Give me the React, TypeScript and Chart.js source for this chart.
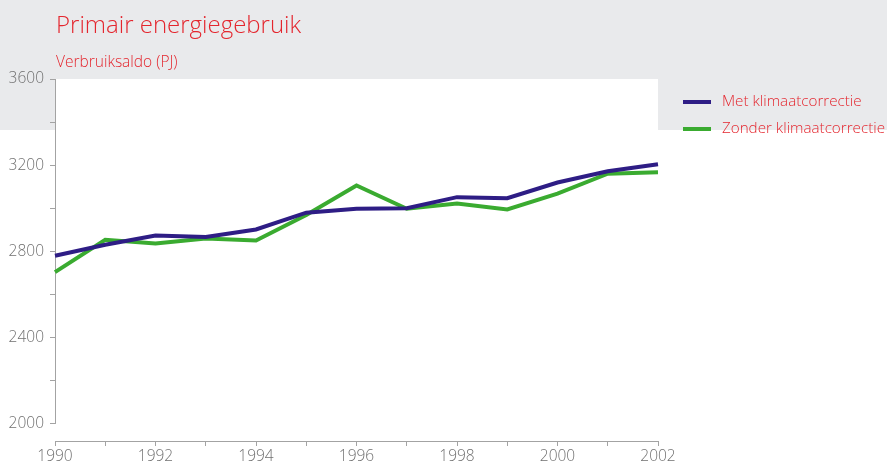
import React, { useEffect, useRef } from "react";
import { Chart, registerables } from "chart.js";

Chart.register(...registerables);

const years = ["1990", "1991", "1992", "1993", "1994", "1995", "1996", "1997", "1998", "1999", "2000", "2001", "2002"];
const metKlimaatcorrectie = [2780, 2831, 2874, 2867, 2902, 2980, 2998, 3001, 3052, 3047, 3120, 3172, 3205];
const zonderKlimaatcorrectie = [2704, 2854, 2837, 2860, 2851, 2969, 3106, 2998, 3023, 2995, 3068, 3161, 3167];
const yTickValues = [2000, 2200, 2400, 2600, 2800, 3000, 3200, 3400, 3600];
const yLabelValues = [2000, 2400, 2800, 3200, 3600];

const TITLE = "Primair energiegebruik";
const SUBTITLE = "Verbruiksaldo (PJ)";
const RED = "#e4262e";
const GREY_BG = "#e9eaec";
const AXIS = "#a3a3a3";
const TICK_TEXT = "#707070";
const FONT = "'Open Sans', 'DejaVu Sans', sans-serif";

const decorPlugin = {
  id: "decor",
  beforeDraw(chart: any) {
    const { ctx, chartArea, width } = chart;
    ctx.save();
    ctx.fillStyle = "#ffffff";
    ctx.fillRect(0, 0, width, chart.height);
    ctx.fillStyle = GREY_BG;
    ctx.fillRect(0, 0, width, 130);
    ctx.fillStyle = "#ffffff";
    ctx.fillRect(chartArea.left, chartArea.top, chartArea.right - chartArea.left, 130 - chartArea.top);
    ctx.restore();
  },
  beforeDatasetsDraw(chart: any) {
    const { ctx, chartArea } = chart;
    const y = chart.scales.y;
    ctx.save();
    ctx.strokeStyle = AXIS;
    ctx.lineWidth = 1;
    ctx.beginPath();
    const x = Math.round(chartArea.left) + 0.5;
    ctx.moveTo(x, y.getPixelForValue(3600));
    ctx.lineTo(x, y.getPixelForValue(2000));
    ctx.stroke();
    ctx.restore();
  },
  afterDraw(chart: any) {
    const { ctx } = chart;
    ctx.save();
    ctx.fillStyle = RED;
    ctx.textBaseline = "alphabetic";
    ctx.textAlign = "left";
    ctx.font = `300 24px ${FONT}`;
    ctx.fillText(TITLE, 56, 33);
    ctx.font = `300 15.5px ${FONT}`;
    ctx.fillText(SUBTITLE, 56, 67);
    // legend
    const items = chart.data.datasets;
    items.forEach((ds: any, i: number) => {
      const cy = 102 + i * 27;
      ctx.strokeStyle = ds.borderColor;
      ctx.lineWidth = 4;
      ctx.beginPath();
      ctx.moveTo(683, cy);
      ctx.lineTo(711, cy);
      ctx.stroke();
      ctx.fillStyle = RED;
      ctx.font = `300 15.2px ${FONT}`;
      ctx.textBaseline = "middle";
      ctx.fillText(ds.label, 722, cy);
    });
    ctx.restore();
  },
};

export default function App() {
  const canvasRef = useRef<HTMLCanvasElement | null>(null);

  useEffect(() => {
    const canvas = canvasRef.current;
    if (!canvas) return;
    const chart = new Chart(canvas, {
      type: "line",
      data: {
        labels: years,
        datasets: [
          {
            label: "Met klimaatcorrectie",
            data: metKlimaatcorrectie,
            borderColor: "#2e1d85",
            backgroundColor: "#2e1d85",
            borderWidth: 4,
            pointRadius: 0,
            tension: 0,
          },
          {
            label: "Zonder klimaatcorrectie",
            data: zonderKlimaatcorrectie,
            borderColor: "#3aab30",
            backgroundColor: "#3aab30",
            borderWidth: 4,
            pointRadius: 0,
            tension: 0,
          },
        ],
      },
      options: {
        responsive: false,
        animation: false,
        devicePixelRatio: 1,
        layout: { padding: { top: 79, right: 229, left: 0, bottom: 0 } },
        plugins: {
          legend: { display: false },
          title: { display: false },
          tooltip: { enabled: false },
        },
        scales: {
          x: {
            type: "category",
            offset: false,
            grid: {
              display: true,
              drawOnChartArea: false,
              drawTicks: true,
              tickLength: 5,
              color: AXIS,
            },
            border: { display: true, color: AXIS, width: 1 },
            ticks: {
              autoSkip: false,
              maxRotation: 0,
              padding: 1,
              color: TICK_TEXT,
              font: { family: FONT, size: 15.5, weight: "300" as any },
              callback: (_v: any, idx: number) => (idx % 2 === 0 ? years[idx] : ""),
            },
            afterFit: (scale: any) => {
              scale.height = 25;
            },
          },
          y: {
            type: "linear",
            min: 1921,
            max: 3600,
            grid: {
              display: true,
              drawOnChartArea: false,
              drawTicks: true,
              tickLength: 5,
              color: AXIS,
            },
            border: { display: false },
            afterBuildTicks: (scale: any) => {
              scale.ticks = yTickValues.map((v) => ({ value: v }));
            },
            ticks: {
              padding: 6,
              color: TICK_TEXT,
              font: { family: FONT, size: 15.5, weight: "300" as any },
              callback: (v: any) => (yLabelValues.includes(Number(v)) ? String(v) : ""),
            },
            afterFit: (scale: any) => {
              scale.width = 55;
            },
          },
        },
      },
      plugins: [decorPlugin],
    });
    return () => chart.destroy();
  }, []);

  return (
    <div style={{ position: "fixed", left: 0, top: 0, width: 887, height: 466 }}>
      <canvas ref={canvasRef} width={887} height={466} style={{ width: 887, height: 466, display: "block" }} />
    </div>
  );
}
